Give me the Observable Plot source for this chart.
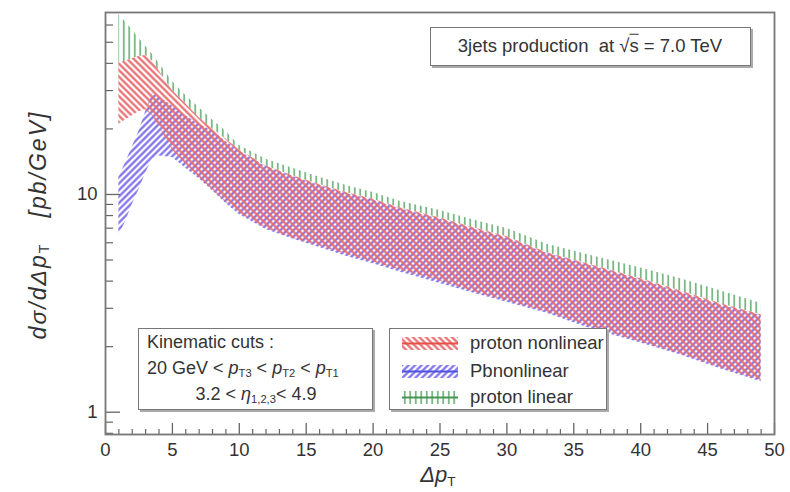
<!DOCTYPE html>
<html><head><meta charset="utf-8">
<script src="https://cdn.jsdelivr.net/npm/d3@7"></script>
<script src="https://cdn.jsdelivr.net/npm/@observablehq/plot@0.6"></script>
<style>
body{margin:0;background:#fff;}
#wrap{position:relative;width:790px;height:492px;font-family:"Liberation Sans",Arial,sans-serif;color:#333;}
.box{position:absolute;border:1px solid #777;background:#fff;box-shadow:2px 2px 0 #aaa;}
.t{position:absolute;white-space:nowrap;line-height:1;}
.sub{font-size:0.62em;vertical-align:-0.28em;font-style:normal;line-height:0;}
.it{font-style:italic;}
</style></head>
<body>
<svg width="0" height="0" style="position:absolute">
 <defs>
  <pattern id="hRed" patternUnits="userSpaceOnUse" width="4.6" height="4.6" patternTransform="rotate(-45)">
   <line x1="2.3" y1="-1" x2="2.3" y2="6" stroke="rgb(232,106,110)" stroke-width="2.2"/>
  </pattern>
  <pattern id="hBlue" patternUnits="userSpaceOnUse" width="4.6" height="4.6" patternTransform="rotate(45)">
   <line x1="2.3" y1="-1" x2="2.3" y2="6" stroke="rgb(124,110,232)" stroke-width="2.2"/>
  </pattern>
  <pattern id="hGreen" patternUnits="userSpaceOnUse" width="5.5" height="5.5">
   <line x1="2.75" y1="-1" x2="2.75" y2="7" stroke="rgb(112,178,124)" stroke-width="1.7"/>
  </pattern>
 </defs>
</svg>
<div id="wrap"></div>
<script>
// Δp_T sample points
const xs      = [1, 1.5, 2, 2.5, 3, 3.5, 4, 5, 6, 7, 8, 9, 10, 12, 14, 16, 18, 20, 22, 25, 28, 30, 33, 36, 40, 43, 46, 49];
// proton nonlinear band
const redHi   = [40, 41, 42, 43, 43.5, 41, 37, 30, 26, 22.5, 20, 18, 16, 13.5, 12.2, 11.1, 10.2, 9.5, 8.7, 7.8, 6.9, 6.4, 5.4, 4.8, 4.1, 3.6, 3.15, 2.8];
const redLo   = [21, 22, 23, 24, 24.5, 23, 20.5, 16, 13.8, 12.0, 10.5, 9.2, 8.2, 7.0, 6.3, 5.8, 5.3, 4.9, 4.5, 4.0, 3.5, 3.25, 2.88, 2.5, 2.1, 1.85, 1.6, 1.4];
// Pb nonlinear band
const blueHi  = [12, 14, 16.5, 19.5, 24, 29, 28, 25.5, 23, 21, 19.5, 17.5, 15.8, 13.4, 12.1, 11, 10.1, 9.4, 8.6, 7.7, 6.8, 6.3, 5.35, 4.75, 4.05, 3.55, 3.1, 2.78];
const blueLo  = [6.5, 7.5, 9, 10.5, 12.5, 14.5, 15, 14.8, 13.2, 11.8, 10.4, 9.1, 8.1, 6.9, 6.25, 5.7, 5.2, 4.8, 4.4, 3.9, 3.45, 3.2, 2.85, 2.45, 2.08, 1.83, 1.58, 1.38];
// proton linear band
const greenHi = [67, 62, 57, 52, 48, 44, 40, 33, 28.5, 25, 22, 19.5, 16.8, 14.5, 13.2, 12, 11, 10.2, 9.3, 8.45, 7.5, 6.98, 5.9, 5.3, 4.6, 4.1, 3.6, 3.16];
const greenLo = [30, 29, 28, 27, 26, 24, 22, 18, 15.5, 13.5, 12, 10.6, 9.2, 7.8, 7.0, 6.4, 5.9, 5.4, 5.0, 4.5, 4.0, 3.7, 3.3, 2.9, 2.5, 2.2, 1.95, 1.75];
// ticks
const xMajor = [0, 5, 10, 15, 20, 25, 30, 35, 40, 45, 50];
const xMinor = [1,2,3,4,6,7,8,9,11,12,13,14,16,17,18,19,21,22,23,24,26,27,28,29,31,32,33,34,36,37,38,39,41,42,43,44,46,47,48,49];
const yMajor = [1, 10];
const yMinor = [0.8, 0.9, 2, 3, 4, 5, 6, 7, 8, 9, 20, 30, 40, 50, 60];

const rows = xs.map((x, i) => ({x, rHi: redHi[i], rLo: redLo[i], bHi: blueHi[i], bLo: blueLo[i], gHi: greenHi[i], gLo: greenLo[i]}));

const W = 790, H = 492, mL = 105, mR = 16, mT = 12, mB = 58;
const innerH = H - mT - mB, innerW = W - mL - mR;

const chart = Plot.plot({
  width: W, height: H, marginLeft: mL, marginRight: mR, marginTop: mT, marginBottom: mB,
  style: {fontFamily: "Liberation Sans, Arial, sans-serif", fontSize: "18.5px", color: "#333", background: "transparent"},
  x: {domain: [0, 50]},
  y: {type: "log", domain: [0.79, 68.5]},
  marks: [
    Plot.areaY(rows, {x: "x", y1: "gLo", y2: "gHi", fill: "url(#hGreen)"}),
    Plot.areaY(rows, {x: "x", y1: "bLo", y2: "bHi", fill: "white"}),
    Plot.areaY(rows, {x: "x", y1: "rLo", y2: "rHi", fill: "white"}),
    Plot.areaY(rows, {x: "x", y1: "bLo", y2: "bHi", fill: "url(#hBlue)"}),
    Plot.areaY(rows, {x: "x", y1: "rLo", y2: "rHi", fill: "url(#hRed)"}),
    Plot.tickX(xMajor, {x: d => d, insetTop: innerH - 11, stroke: "#666", strokeWidth: 1.3}),
    Plot.tickX(xMinor, {x: d => d, insetTop: innerH - 5, stroke: "#666", strokeWidth: 1.2}),
    Plot.tickY(yMajor, {y: d => d, insetRight: innerW - 15, stroke: "#666", strokeWidth: 1.3}),
    Plot.tickY(yMinor, {y: d => d, insetRight: innerW - 8, stroke: "#666", strokeWidth: 1.2}),
    Plot.axisX({ticks: xMajor, tickSize: 0, tickPadding: 8, label: null}),
    Plot.axisY({ticks: yMajor, tickSize: 0, tickPadding: 8, label: null, tickFormat: d => String(d)}),
    Plot.frame({stroke: "#777", strokeWidth: 1.8})
  ]
});
chart.style.position = "absolute";
chart.style.left = "0px";
chart.style.top = "0px";
const wrap = document.getElementById("wrap");
wrap.appendChild(chart);

wrap.insertAdjacentHTML("beforeend", `
<div class="t it" style="left:38px;top:225px;font-size:23px;letter-spacing:2px;transform:translate(-50%,-50%) rotate(-90deg);">dσ/dΔp<span class="sub">T</span>&nbsp;&nbsp;&nbsp;[pb/GeV]</div>
<div class="t it" style="left:438px;top:475px;font-size:22px;transform:translate(-50%,-50%);">Δp<span class="sub">T</span></div>

<div class="box" style="left:430px;top:27px;width:319px;height:37px;"></div>
<div class="t" style="left:590px;top:46px;font-size:18.5px;transform:translate(-50%,-50%);">3jets production&nbsp; at √<span style="text-decoration:overline">s</span> = 7.0 TeV</div>

<div class="box" style="left:138px;top:328px;width:233px;height:80px;"></div>
<div class="t" style="left:147px;top:333px;font-size:18px;">Kinematic cuts :</div>
<div class="t" style="left:147px;top:359px;font-size:18px;">20 GeV &lt; <i>p</i><span class="sub">T3</span> &lt; <i>p</i><span class="sub">T2</span> &lt; <i>p</i><span class="sub">T1</span></div>
<div class="t" style="left:256px;top:394px;font-size:18px;transform:translate(-50%,-50%);">3.2 &lt; <i>η</i><span class="sub">1,2,3</span>&lt; 4.9</div>

<div class="box" style="left:389px;top:328px;width:216px;height:80px;"></div>
<svg style="position:absolute;left:402px;top:336px" width="56" height="70">
  <rect x="0" y="1" width="56" height="13" fill="url(#hRed)"/>
  <line x1="0" x2="56" y1="7.5" y2="7.5" stroke="rgb(230,80,70)" stroke-width="2"/>
  <rect x="0" y="29" width="56" height="13" fill="url(#hBlue)"/>
  <line x1="0" x2="56" y1="35.5" y2="35.5" stroke="rgb(80,80,225)" stroke-width="2"/>
  <rect x="0" y="55" width="56" height="13" fill="url(#hGreen)"/>
  <line x1="0" x2="56" y1="61.5" y2="61.5" stroke="rgb(70,150,85)" stroke-width="2"/>
</svg>
<div class="t" style="left:470px;top:343px;font-size:18.5px;transform:translate(0,-50%);">proton nonlinear</div>
<div class="t" style="left:470px;top:371px;font-size:18.5px;transform:translate(0,-50%);">Pbnonlinear</div>
<div class="t" style="left:470px;top:397px;font-size:18.5px;transform:translate(0,-50%);">proton linear</div>
`);
</script>
</body></html>
